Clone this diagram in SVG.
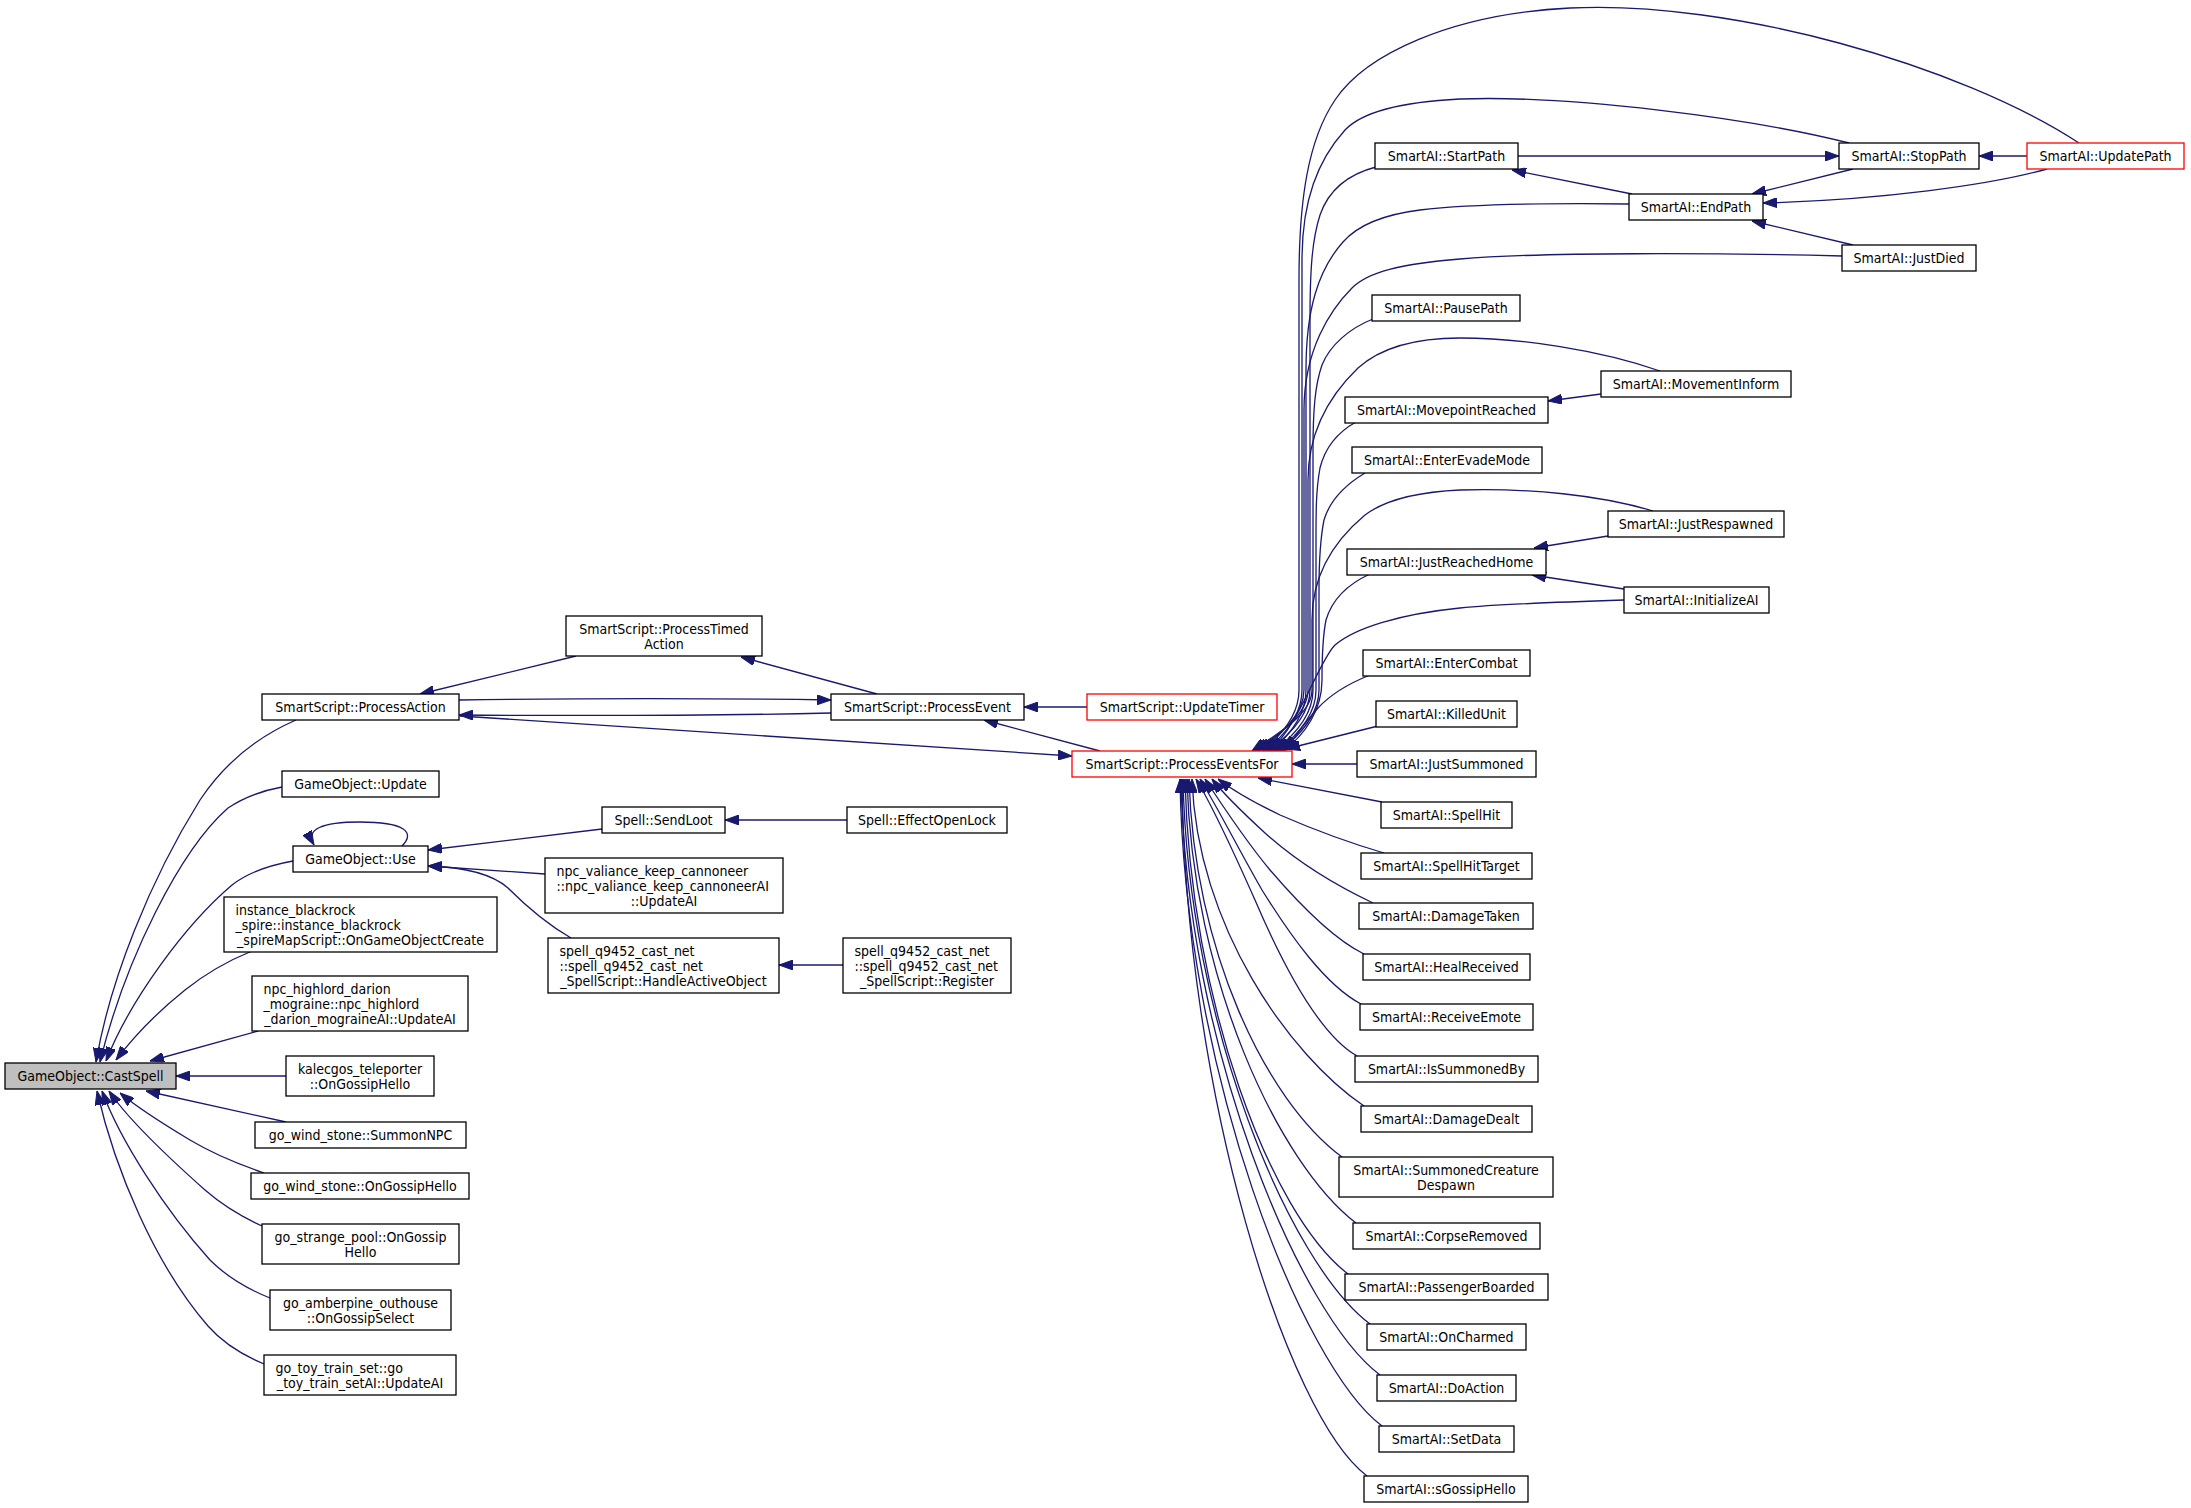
<svg xmlns="http://www.w3.org/2000/svg" width="2191" height="1508" viewBox="0 0 2191 1508">
<style>
.node rect{fill:#fff;stroke:#000;stroke-width:1.3}
.node.red rect{stroke:#ff0000}
.node.focus rect{fill:#bfbfbf}
text{font-family:"DejaVu Sans Condensed","Liberation Sans",Arial,sans-serif;font-size:14px;fill:#000}
.c{text-anchor:middle}
.l{text-anchor:start}
#edges path{fill:none;stroke:#191970;stroke-width:1.3;marker-end:url(#ah)}
</style>
<defs>
<marker id="ah" markerUnits="userSpaceOnUse" markerWidth="14" markerHeight="10" refX="14" refY="5" orient="auto"><path d="M0,0 L14,5 L0,10 z" fill="#191970" stroke="#191970" stroke-width="1"/></marker>
</defs>
<rect x="0" y="0" width="2191" height="1508" fill="#fff"/>
<g id="edges">
<!-- callers of CastSpell -->
<path d="M296,720 C250,740 220,770 200,800 C150,880 110,980 96,1062"/>
<path d="M282,787 C255,792 240,800 228,808 C180,850 125,960 100,1062"/>
<path d="M293,861 C265,866 245,875 232,885 C185,925 130,1000 106,1061"/>
<path d="M252,951 C225,962 200,978 185,990 C160,1010 135,1035 116,1060"/>
<path d="M258,1031 L150,1061"/>
<path d="M286,1076 L176,1076"/>
<path d="M286,1122 L146,1091"/>
<path d="M264,1173 C235,1163 210,1152 190,1140 C160,1122 138,1108 120,1093"/>
<path d="M262,1226 C240,1216 220,1203 205,1190 C160,1150 125,1115 109,1091"/>
<path d="M270,1298 C245,1288 225,1275 210,1260 C165,1210 120,1140 102,1091"/>
<path d="M264,1364 C240,1354 222,1342 208,1326 C155,1265 115,1170 97,1091"/>
<!-- GameObject::Use -->
<path d="M402,846 C416,832 404,822 360,822 C322,822 305,829 314,845"/>
<path d="M602,829 L428,850"/>
<path d="M545,874 L428,866"/>
<path d="M571,938 C545,923 525,905 508,888 C490,872 460,867 428,866"/>
<path d="M847,820 L725,820"/>
<path d="M843,965 L779,965"/>
<!-- SmartScript -->
<path d="M576,656 L420,694"/>
<path d="M877,694 L741,657"/>
<path d="M459,700 C600,698 700,698 831,700"/>
<path d="M831,713 C700,716 600,716 459,715"/>
<path d="M460,716 C700,730 900,745 1072,756"/>
<path d="M1100,751 L984,720"/>
<path d="M1087,707 L1024,707"/>
<path d="M1357,764 L1292,764"/>
<!-- path functions -->
<path d="M1518,156 L1839,156"/>
<path d="M2027,156 L1979,156"/>
<path d="M1632,194 L1512,170"/>
<path d="M1853,169 L1752,194"/>
<path d="M2047,169 C1990,185 1880,200 1763,203"/>
<path d="M1853,245 L1752,221"/>
<path d="M1601,394 L1548,401"/>
<path d="M1608,536 L1534,548"/>
<path d="M1624,589 L1532,575"/>
<!-- into ProcessEventsFor from above -->
<path d="M2079,143 C1960,65 1730,0 1570,8 C1450,14 1365,55 1335,100 C1308,140 1299,200 1299,280 L1299,690 C1299,715 1282,735 1262,751"/>
<path d="M1849,143 C1750,118 1570,95 1460,99 C1400,102 1362,112 1345,130 C1318,160 1302,200 1302,260 L1302,690 C1302,715 1285,735 1265,751"/>
<path d="M1376,167 C1345,175 1328,192 1320,215 C1312,240 1310,270 1310,320 L1310,690 C1310,715 1290,735 1268,751"/>
<path d="M1629,204 C1540,203 1470,204 1420,210 C1380,215 1357,226 1343,242 C1318,270 1306,310 1306,370 L1306,690 C1306,715 1290,735 1271,751"/>
<path d="M1842,256 C1720,253 1540,252 1460,259 C1400,264 1368,272 1352,288 C1330,310 1304,350 1304,410 L1304,690 C1304,715 1280,735 1258,751"/>
<path d="M1373,319 C1350,328 1330,345 1322,365 C1315,385 1313,410 1313,450 L1313,690 C1313,715 1295,735 1274,751"/>
<path d="M1660,371 C1600,350 1520,338 1460,338 C1410,338 1378,350 1358,368 C1330,395 1308,430 1308,480 L1308,690 C1308,715 1278,735 1255,751"/>
<path d="M1356,422 C1338,432 1325,448 1320,468 C1316,490 1316,510 1316,540 L1316,690 C1316,715 1298,735 1277,751"/>
<path d="M1365,473 C1345,485 1330,500 1324,520 C1320,540 1319,560 1319,590 L1319,690 C1319,715 1300,735 1280,751"/>
<path d="M1653,511 C1600,495 1530,488 1460,490 C1415,492 1385,500 1365,515 C1335,540 1312,575 1312,620 L1312,690 C1312,715 1275,735 1252,751"/>
<path d="M1370,574 C1348,584 1332,600 1326,620 C1322,640 1322,660 1322,680 C1322,710 1305,735 1283,751"/>
<path d="M1624,600 C1560,602 1500,604 1460,608 C1400,614 1355,628 1335,645 C1318,662 1300,725 1270,750"/>
<path d="M1370,675 C1345,685 1330,695 1318,708 C1305,722 1295,737 1285,750"/>
<path d="M1378,726 L1286,749"/>
<!-- into ProcessEventsFor from below -->
<path d="M1382,802 L1258,778"/>
<path d="M1384,853 C1350,843 1310,828 1280,815 C1255,803 1235,792 1218,779"/>
<path d="M1373,903 C1335,885 1295,860 1265,833 C1240,810 1222,792 1212,779"/>
<path d="M1364,954 C1335,940 1300,905 1270,870 C1245,840 1222,805 1205,779"/>
<path d="M1361,1004 C1325,985 1290,935 1262,890 C1240,852 1218,808 1200,779"/>
<path d="M1357,1056 C1320,1035 1285,970 1255,900 C1235,855 1212,805 1196,779"/>
<path d="M1364,1106 C1290,1056 1197,926 1192,779"/>
<path d="M1342,1157 C1265,1100 1194,949 1189,779"/>
<path d="M1356,1223 C1278,1163 1192,978 1187,779"/>
<path d="M1348,1274 C1270,1214 1190,1001 1185,779"/>
<path d="M1370,1324 C1290,1264 1188,1024 1183,779"/>
<path d="M1380,1375 C1300,1315 1186,1047 1181,779"/>
<path d="M1382,1426 C1302,1366 1184,1070 1180,779"/>
<path d="M1367,1476 C1287,1416 1185,1092 1182,779"/>
</g>
<g id="n_castspell" class="node focus"><rect x="5" y="1063" width="171" height="26"/><text class="c" x="90.5" y="1081">GameObject::CastSpell</text></g>
<g id="n_processaction" class="node"><rect x="262" y="694" width="197" height="26"/><text class="c" x="360.5" y="712">SmartScript::ProcessAction</text></g>
<g id="n_goupdate" class="node"><rect x="282" y="771" width="157" height="26"/><text class="c" x="360.5" y="789">GameObject::Update</text></g>
<g id="n_gouse" class="node"><rect x="293" y="846" width="135" height="26"/><text class="c" x="360.5" y="864">GameObject::Use</text></g>
<g id="n_blackrock" class="node"><rect x="224" y="897" width="273" height="55"/><text class="l" x="235.5" y="914.5">instance_blackrock</text><text class="l" x="235.5" y="929.5">_spire::instance_blackrock</text><text class="c" x="360.5" y="944.5">_spireMapScript::OnGameObjectCreate</text></g>
<g id="n_highlord" class="node"><rect x="252" y="976" width="216" height="55"/><text class="l" x="263.5" y="993.5">npc_highlord_darion</text><text class="l" x="263.5" y="1008.5">_mograine::npc_highlord</text><text class="c" x="360" y="1023.5">_darion_mograineAI::UpdateAI</text></g>
<g id="n_kalecgos" class="node"><rect x="286" y="1056" width="148" height="40"/><text class="c" x="360" y="1073.5">kalecgos_teleporter</text><text class="c" x="360" y="1088.5">::OnGossipHello</text></g>
<g id="n_summonnpc" class="node"><rect x="255" y="1122" width="211" height="26"/><text class="c" x="360.5" y="1140">go_wind_stone::SummonNPC</text></g>
<g id="n_windhello" class="node"><rect x="251" y="1173" width="218" height="26"/><text class="c" x="360" y="1191">go_wind_stone::OnGossipHello</text></g>
<g id="n_strangepool" class="node"><rect x="262" y="1224" width="197" height="40"/><text class="c" x="360.5" y="1241.5">go_strange_pool::OnGossip</text><text class="c" x="360.5" y="1256.5">Hello</text></g>
<g id="n_amberpine" class="node"><rect x="270" y="1290" width="181" height="40"/><text class="c" x="360.5" y="1307.5">go_amberpine_outhouse</text><text class="c" x="360.5" y="1322.5">::OnGossipSelect</text></g>
<g id="n_toytrain" class="node"><rect x="264" y="1355" width="192" height="40"/><text class="l" x="275.5" y="1372.5">go_toy_train_set::go</text><text class="c" x="360" y="1387.5">_toy_train_setAI::UpdateAI</text></g>
<g id="n_processtimed" class="node"><rect x="566" y="616" width="196" height="40"/><text class="c" x="664" y="633.5">SmartScript::ProcessTimed</text><text class="c" x="664" y="648.5">Action</text></g>
<g id="n_sendloot" class="node"><rect x="602" y="807" width="123" height="26"/><text class="c" x="663.5" y="825">Spell::SendLoot</text></g>
<g id="n_valiance" class="node"><rect x="545" y="858" width="238" height="55"/><text class="l" x="556.5" y="875.5">npc_valiance_keep_cannoneer</text><text class="l" x="556.5" y="890.5">::npc_valiance_keep_cannoneerAI</text><text class="c" x="664" y="905.5">::UpdateAI</text></g>
<g id="n_handleactive" class="node"><rect x="548" y="938" width="231" height="55"/><text class="l" x="559.5" y="955.5">spell_q9452_cast_net</text><text class="l" x="559.5" y="970.5">::spell_q9452_cast_net</text><text class="c" x="663.5" y="985.5">_SpellScript::HandleActiveObject</text></g>
<g id="n_processevent" class="node"><rect x="831" y="694" width="193" height="26"/><text class="c" x="927.5" y="712">SmartScript::ProcessEvent</text></g>
<g id="n_effectopenlock" class="node"><rect x="847" y="807" width="160" height="26"/><text class="c" x="927" y="825">Spell::EffectOpenLock</text></g>
<g id="n_register" class="node"><rect x="843" y="938" width="168" height="55"/><text class="l" x="854.5" y="955.5">spell_q9452_cast_net</text><text class="l" x="854.5" y="970.5">::spell_q9452_cast_net</text><text class="c" x="927" y="985.5">_SpellScript::Register</text></g>
<g id="n_updatetimer" class="node red"><rect x="1087" y="694" width="190" height="26"/><text class="c" x="1182" y="712">SmartScript::UpdateTimer</text></g>
<g id="n_processeventsfor" class="node red"><rect x="1072" y="751" width="220" height="26"/><text class="c" x="1182" y="769">SmartScript::ProcessEventsFor</text></g>
<g id="n_startpath" class="node"><rect x="1375" y="143" width="143" height="26"/><text class="c" x="1446.5" y="161">SmartAI::StartPath</text></g>
<g id="n_pausepath" class="node"><rect x="1372" y="295" width="148" height="26"/><text class="c" x="1446" y="313">SmartAI::PausePath</text></g>
<g id="n_movepoint" class="node"><rect x="1345" y="397" width="203" height="26"/><text class="c" x="1446.5" y="415">SmartAI::MovepointReached</text></g>
<g id="n_evade" class="node"><rect x="1352" y="447" width="190" height="26"/><text class="c" x="1447" y="465">SmartAI::EnterEvadeMode</text></g>
<g id="n_reachedhome" class="node"><rect x="1347" y="549" width="199" height="26"/><text class="c" x="1446.5" y="567">SmartAI::JustReachedHome</text></g>
<g id="n_entercombat" class="node"><rect x="1363" y="650" width="167" height="26"/><text class="c" x="1446.5" y="668">SmartAI::EnterCombat</text></g>
<g id="n_killedunit" class="node"><rect x="1376" y="701" width="141" height="26"/><text class="c" x="1446.5" y="719">SmartAI::KilledUnit</text></g>
<g id="n_justsummoned" class="node"><rect x="1357" y="751" width="179" height="26"/><text class="c" x="1446.5" y="769">SmartAI::JustSummoned</text></g>
<g id="n_spellhit" class="node"><rect x="1381" y="802" width="131" height="26"/><text class="c" x="1446.5" y="820">SmartAI::SpellHit</text></g>
<g id="n_spellhittarget" class="node"><rect x="1361" y="853" width="171" height="26"/><text class="c" x="1446.5" y="871">SmartAI::SpellHitTarget</text></g>
<g id="n_damagetaken" class="node"><rect x="1359" y="903" width="174" height="26"/><text class="c" x="1446" y="921">SmartAI::DamageTaken</text></g>
<g id="n_healreceived" class="node"><rect x="1363" y="954" width="167" height="26"/><text class="c" x="1446.5" y="972">SmartAI::HealReceived</text></g>
<g id="n_receiveemote" class="node"><rect x="1360" y="1004" width="173" height="26"/><text class="c" x="1446.5" y="1022">SmartAI::ReceiveEmote</text></g>
<g id="n_issummonedby" class="node"><rect x="1355" y="1056" width="183" height="26"/><text class="c" x="1446.5" y="1074">SmartAI::IsSummonedBy</text></g>
<g id="n_damagedealt" class="node"><rect x="1361" y="1106" width="171" height="26"/><text class="c" x="1446.5" y="1124">SmartAI::DamageDealt</text></g>
<g id="n_summoneddespawn" class="node"><rect x="1339" y="1157" width="214" height="40"/><text class="c" x="1446" y="1174.5">SmartAI::SummonedCreature</text><text class="c" x="1446" y="1189.5">Despawn</text></g>
<g id="n_corpseremoved" class="node"><rect x="1353" y="1223" width="187" height="26"/><text class="c" x="1446.5" y="1241">SmartAI::CorpseRemoved</text></g>
<g id="n_passenger" class="node"><rect x="1345" y="1274" width="203" height="26"/><text class="c" x="1446.5" y="1292">SmartAI::PassengerBoarded</text></g>
<g id="n_oncharmed" class="node"><rect x="1367" y="1324" width="159" height="26"/><text class="c" x="1446.5" y="1342">SmartAI::OnCharmed</text></g>
<g id="n_doaction" class="node"><rect x="1377" y="1375" width="139" height="26"/><text class="c" x="1446.5" y="1393">SmartAI::DoAction</text></g>
<g id="n_setdata" class="node"><rect x="1379" y="1426" width="135" height="26"/><text class="c" x="1446.5" y="1444">SmartAI::SetData</text></g>
<g id="n_sgossiphello" class="node"><rect x="1364" y="1476" width="164" height="26"/><text class="c" x="1446" y="1494">SmartAI::sGossipHello</text></g>
<g id="n_endpath" class="node"><rect x="1629" y="194" width="134" height="26"/><text class="c" x="1696" y="212">SmartAI::EndPath</text></g>
<g id="n_movementinform" class="node"><rect x="1601" y="371" width="190" height="26"/><text class="c" x="1696" y="389">SmartAI::MovementInform</text></g>
<g id="n_justrespawned" class="node"><rect x="1608" y="511" width="176" height="26"/><text class="c" x="1696" y="529">SmartAI::JustRespawned</text></g>
<g id="n_initializeai" class="node"><rect x="1624" y="587" width="145" height="26"/><text class="c" x="1696.5" y="605">SmartAI::InitializeAI</text></g>
<g id="n_stoppath" class="node"><rect x="1839" y="143" width="140" height="26"/><text class="c" x="1909" y="161">SmartAI::StopPath</text></g>
<g id="n_justdied" class="node"><rect x="1842" y="245" width="134" height="26"/><text class="c" x="1909" y="263">SmartAI::JustDied</text></g>
<g id="n_updatepath" class="node red"><rect x="2027" y="143" width="157" height="26"/><text class="c" x="2105.5" y="161">SmartAI::UpdatePath</text></g>
</svg>
